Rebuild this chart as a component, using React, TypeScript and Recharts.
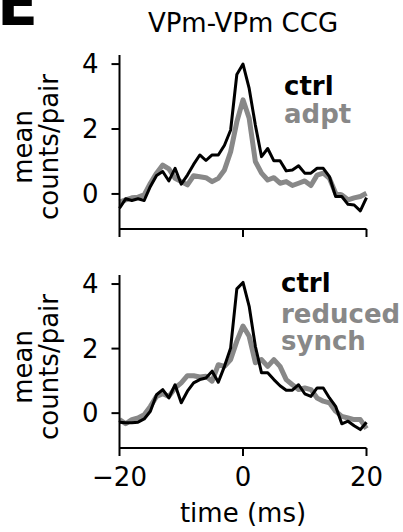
import { LineChart, Line, XAxis, YAxis } from 'recharts'

const times = [-20, -19, -18, -17, -16, -15, -14, -13, -12, -11, -10, -9, -8, -7, -6, -5, -4, -3, -2, -1, 0, 1, 2, 3, 4, 5, 6, 7, 8, 9, 10, 11, 12, 13, 14, 15, 16, 17, 18, 19, 20]

// top panel
const ctrlTop = [-0.44, -0.15, -0.2, -0.15, -0.2, 0.23, 0.57, 0.69, 0.4, 0.79, 0.3, 0.58, 0.91, 1.2, 1.03, 1.2, 1.2, 1.5, 1.97, 3.68, 4.0, 3.25, 2.12, 1.15, 1.4, 1.02, 1.02, 0.71, 0.74, 0.87, 0.64, 0.64, 0.79, 0.79, 0.53, -0.08, -0.08, -0.32, -0.34, -0.52, -0.11]
const adpt = [-0.25, -0.18, -0.12, -0.1, -0.03, 0.33, 0.64, 0.89, 0.77, 0.48, 0.38, 0.28, 0.56, 0.53, 0.5, 0.38, 0.48, 0.74, 1.3, 2.22, 2.9, 2.33, 1.0, 0.64, 0.43, 0.5, 0.33, 0.38, 0.26, 0.33, 0.4, 0.26, 0.58, 0.64, 0.48, 0.02, -0.03, -0.18, -0.12, -0.08, 0.02]

// bottom panel
const ctrlBottom = [-0.28, -0.3, -0.3, -0.28, -0.18, 0.06, 0.57, 0.73, 0.47, 0.88, 0.32, 0.68, 0.94, 1.04, 1.09, 1.3, 0.96, 1.45, 2.02, 3.85, 4.05, 3.31, 2.07, 1.25, 1.25, 1.04, 0.85, 0.71, 0.71, 0.88, 0.6, 0.52, 0.78, 0.78, 0.47, 0.21, -0.33, -0.25, -0.39, -0.51, -0.28]
const reducedSynch = [-0.2, -0.33, -0.2, -0.15, -0.05, 0.21, 0.52, 0.6, 0.52, 0.78, 0.94, 1.16, 1.16, 1.12, 1.14, 0.99, 1.5, 1.45, 1.66, 2.23, 2.7, 2.38, 1.56, 1.66, 1.45, 1.66, 1.45, 1.04, 0.88, 0.73, 0.78, 0.73, 0.47, 0.37, 0.32, 0.06, -0.1, -0.15, -0.2, -0.2, -0.48]

const xTicks = [-20, 0, 20]
const yTicks = [0, 2, 4]

const topData = times.map((t, i) => ({ t, ctrl: ctrlTop[i], other: adpt[i] }))
const bottomData = times.map((t, i) => ({ t, ctrl: ctrlBottom[i], other: reducedSynch[i] }))

const FONT = 'DejaVu Sans'
const GRAY = '#888888'
const tickStyle = { fontSize: 26, fill: '#000', fontFamily: FONT }
const fmt = (v: number) => (v < 0 ? `\u2212${-v}` : `${v}`)

function Panel({ data, height, top, xHeight, showX }: any) {
  return (
    <LineChart width={403} height={height} data={data} margin={{ top, right: 36.5, bottom: 0, left: 0 }}>
      <XAxis
        dataKey="t"
        type="number"
        domain={[-20, 20]}
        ticks={xTicks}
        height={xHeight}
        tickSize={8}
        tickMargin={12}
        tick={tickStyle}
        tickFormatter={showX ? fmt : () => ''}
        axisLine={{ stroke: '#000', strokeWidth: 2 }}
        tickLine={{ stroke: '#000', strokeWidth: 2 }}
      />
      <YAxis
        type="number"
        domain={[-1.08, 4.28]}
        ticks={yTicks}
        allowDataOverflow
        width={119.5}
        tickSize={8}
        tickMargin={13}
        tick={tickStyle}
        tickFormatter={fmt}
        axisLine={{ stroke: '#000', strokeWidth: 2 }}
        tickLine={{ stroke: '#000', strokeWidth: 2 }}
      />
      <Line type="linear" dataKey="other" stroke={GRAY} strokeWidth={5} dot={false} strokeLinejoin="round" isAnimationActive={false} />
      <Line type="linear" dataKey="ctrl" stroke="#000" strokeWidth={3} dot={false} strokeLinejoin="round" isAnimationActive={false} />
    </LineChart>
  )
}

export default function App() {
  return (
    <div style={{ position: 'absolute', left: 0, top: 0, width: 403, height: 532, overflow: 'hidden', background: '#fff', fontFamily: FONT }}>
      <div style={{ position: 'absolute', left: 0, top: 0 }}>
        <Panel data={topData} height={250} top={55} xHeight={21} showX={false} />
      </div>
      <div style={{ position: 'absolute', left: 0, top: 250 }}>
        <Panel data={bottomData} height={282} top={25} xHeight={84} showX={true} />
      </div>
      <svg width={403} height={532} style={{ position: 'absolute', left: 0, top: 0, pointerEvents: 'none' }} fontFamily={FONT}>
        <text x={-3} y={25} fontSize={60} fontWeight="bold" fill="#000">E</text>
        <text x={243} y={32} fontSize={26} textAnchor="middle" fill="#000">VPm-VPm CCG</text>

        <text x={284} y={95} fontSize={26} fontWeight="bold" fill="#000">ctrl</text>
        <text x={284} y={123} fontSize={26} fontWeight="bold" fill={GRAY}>adpt</text>

        <text x={281} y={292} fontSize={26} fontWeight="bold" fill="#000">ctrl</text>
        <text x={281} y={323} fontSize={26} fontWeight="bold" fill={GRAY}>reduced</text>
        <text x={281} y={350} fontSize={26} fontWeight="bold" fill={GRAY}>synch</text>

        <text transform="translate(32,147) rotate(-90)" fontSize={26} textAnchor="middle" fill="#000">mean</text>
        <text transform="translate(58,147) rotate(-90)" fontSize={26} textAnchor="middle" fill="#000">counts/pair</text>
        <text transform="translate(32,367) rotate(-90)" fontSize={26} textAnchor="middle" fill="#000">mean</text>
        <text transform="translate(58,367) rotate(-90)" fontSize={26} textAnchor="middle" fill="#000">counts/pair</text>

        <text x={243} y={522} fontSize={26} textAnchor="middle" fill="#000">time (ms)</text>
      </svg>
    </div>
  )
}
